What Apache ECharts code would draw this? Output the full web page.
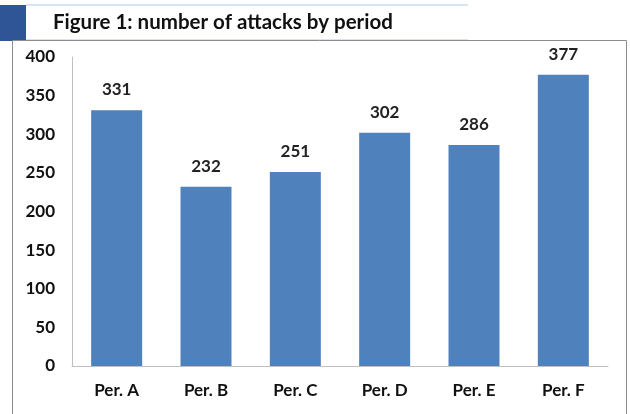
<!DOCTYPE html>
<html>
<head>
<meta charset="utf-8">
<script src="https://cdn.jsdelivr.net/npm/echarts@6/dist/echarts.min.js"></script>
<style>
  html, body { margin: 0; padding: 0; background: #fff; }
  #chart { width: 630px; height: 414px; }
</style>
</head>
<body>
<div id="chart"></div>
<script>
var periods = ['Per. A', 'Per. B', 'Per. C', 'Per. D', 'Per. E', 'Per. F'];
var attacks = [331, 232, 251, 302, 286, 377];
var yTicks = [0, 50, 100, 150, 200, 250, 300, 350, 400];

var font = 'Lato, "Open Sans", sans-serif';

var option = {
  animation: false,
  title: {
    text: 'Figure 1: number of attacks by period',
    left: 48,
    top: 7,
    textStyle: { fontFamily: font, fontWeight: 'bold', fontSize: 20.5, color: '#111' }
  },
  graphic: [
    { type: 'rect', shape: { x: 0, y: 5, width: 26, height: 36 }, style: { fill: '#2f5597' } },
    { type: 'line', shape: { x1: 26, y1: 5, x2: 468, y2: 5 }, style: { stroke: '#b4c7e7', lineWidth: 1 } },
    { type: 'line', shape: { x1: 26, y1: 40, x2: 468, y2: 40 }, style: { stroke: '#b4c7e7', lineWidth: 1 } },
    { type: 'rect', shape: { x: 12.5, y: 40.5, width: 614, height: 380 }, style: { fill: 'none', stroke: '#8c8c8c', lineWidth: 1 } }
  ],
  grid: { left: 72, right: 22, top: 57, bottom: 48 },
  xAxis: {
    type: 'category',
    data: periods,
    axisLine: { lineStyle: { color: '#bfbfbf' } },
    axisTick: { show: false },
    axisLabel: { margin: 16, fontFamily: font, fontWeight: 'bold', fontSize: 17, color: '#111' }
  },
  yAxis: {
    type: 'value',
    min: yTicks[0],
    max: yTicks[yTicks.length - 1],
    interval: yTicks[1] - yTicks[0],
    axisLine: { show: true, lineStyle: { color: '#bfbfbf' } },
    axisTick: { show: false },
    splitLine: { show: false },
    axisLabel: { margin: 17, fontFamily: font, fontWeight: 'bold', fontSize: 17, color: '#111' }
  },
  series: [{
    type: 'bar',
    data: attacks,
    barWidth: 51,
    itemStyle: { color: '#4f81bd' },
    label: {
      show: true,
      position: 'top',
      distance: 12,
      fontFamily: font,
      fontWeight: 'bold',
      fontSize: 17,
      color: '#222'
    }
  }]
};

var myChart = echarts.init(document.getElementById('chart'));
myChart.setOption(option);
</script>
</body>
</html>
